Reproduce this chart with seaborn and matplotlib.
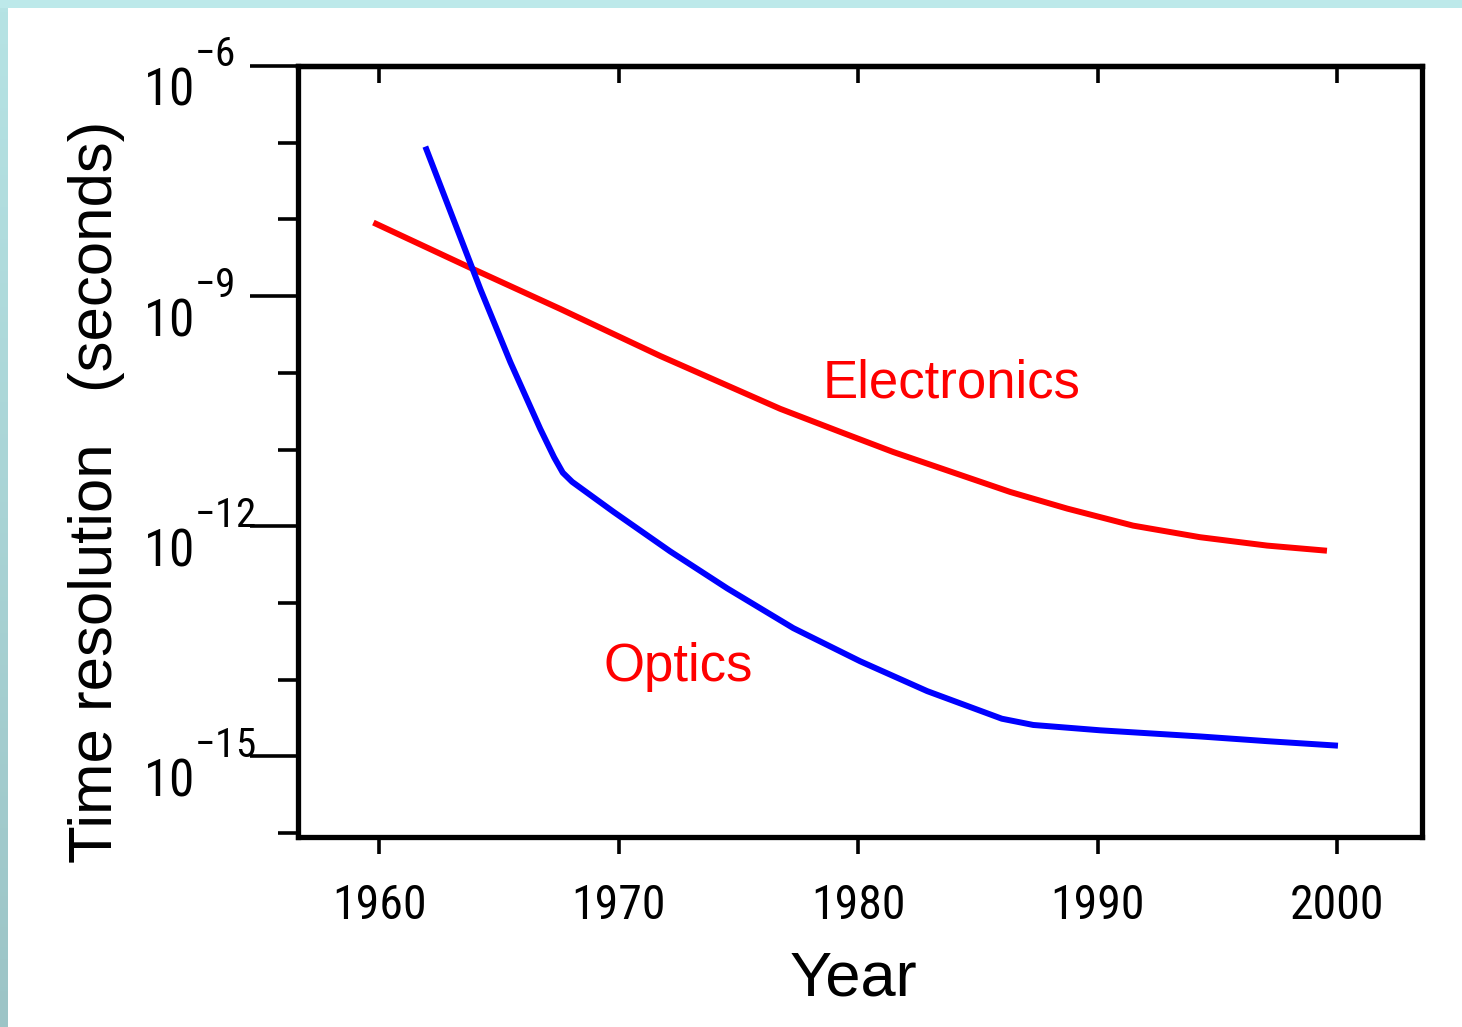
import numpy as np
import pandas as pd
import matplotlib
matplotlib.use("Agg")
import matplotlib.pyplot as plt
import matplotlib.ticker as mticker
import matplotlib.transforms as mtransforms
from matplotlib import font_manager as fm
from matplotlib.patches import Rectangle
from matplotlib.colors import LinearSegmentedColormap
import matplotlib._mathtext as _mt
import seaborn as sns

# ---------------- data ----------------
elec_years = [1959.75, 1963.8, 1967.56, 1971.73, 1976.74, 1979.25, 1981.46,
              1986.35, 1988.73, 1991.48, 1994.28, 1997.08, 1999.58]
elec_values = [9.1e-9, 2.34e-9, 6.8e-10, 1.66e-10, 3.4e-11, 1.7e-11, 9.3e-12,
               2.8e-12, 1.7e-12, 1.02e-12, 7.2e-13, 5.6e-13, 4.8e-13]

opt_years = [1961.92, 1964.22, 1965.47, 1966.72, 1967.3, 1967.66, 1968.05, 1969.77,
             1972.15, 1974.53, 1977.29, 1980.08, 1982.88, 1986.0, 1987.31,
             1990.1, 1994.28, 1997.08, 2000.04]
opt_values = [8.9e-8, 1.23e-9, 1.38e-10, 1.86e-11, 7.9e-12, 5.0e-12, 3.8e-12, 1.55e-12,
              4.7e-13, 1.55e-13, 4.7e-14, 1.74e-14, 7.1e-15, 3.1e-15, 2.57e-15,
              2.19e-15, 1.82e-15, 1.58e-15, 1.38e-15]

x_ticks = [1960, 1970, 1980, 1990, 2000]
x_tick_labels = ["1960", "1970", "1980", "1990", "2000"]
y_major_ticks = [1e-15, 1e-12, 1e-9, 1e-6]
y_major_labels = [r"$\mathregular{10^{-15}}$", r"$\mathregular{10^{-12}}$",
                  r"$\mathregular{10^{-9}}$", r"$\mathregular{10^{-6}}$"]
y_minor_ticks = [1e-16, 1e-14, 1e-13, 1e-11, 1e-10, 1e-8, 1e-7]

annotations = [("Electronics", 1978.5, 10 ** -10.32), ("Optics", 1969.35, 10 ** -14.02)]

# larger, higher superscripts (the exponents sit fully above the "10")
_mt.FontConstantsBase.sup1 = 1.4
_mt.SHRINK_FACTOR = 0.8

# ---------------- fonts ----------------
sns.set_theme(style="white")
names = {f.name for f in fm.fontManager.ttflist}
main_font = "Liberation Sans" if "Liberation Sans" in names else "DejaVu Sans"
plt.rcParams["font.family"] = [main_font, "DejaVu Sans"]


def find_narrow():
    prefs = ["Liberation Sans Narrow", "Roboto Condensed", "Noto Sans", "Open Sans"]
    for pref in prefs:
        for f in fm.fontManager.ttflist:
            if f.style != "normal" or f.weight not in (400, "normal", "regular"):
                continue
            nm = f.name
            fn = f.fname.lower()
            if pref in ("Liberation Sans Narrow", "Roboto Condensed") and nm == pref:
                return f.fname
            if nm == pref and ("condensed" in fn and "extra" not in fn and "semi" not in fn):
                return f.fname
    return None


narrow_path = find_narrow()
if narrow_path:
    xtick_fp = fm.FontProperties(fname=narrow_path, size=34.5)
    ytick_fp = fm.FontProperties(fname=narrow_path, size=37)
else:
    xtick_fp = fm.FontProperties(family=main_font, size=31.5)
    ytick_fp = fm.FontProperties(family=main_font, size=33)

# ---------------- figure ----------------
W, H = 1462, 1027
fig = plt.figure(figsize=(W / 100, H / 100), dpi=100)
fig.patch.set_facecolor("white")

fig.patches.append(Rectangle((0, 1 - 8 / H), 1, 8 / H, transform=fig.transFigure,
                             facecolor="#bde9ea", edgecolor="none", zorder=0))
bg = fig.add_axes([0, 0, 8 / W, 1 - 8 / H])
grad = np.linspace(0, 1, 256).reshape(-1, 1)
cmap = LinearSegmentedColormap.from_list("edge", ["#9cc4c6", "#b6e3e4"])
bg.imshow(grad, aspect="auto", cmap=cmap, origin="lower", extent=[0, 1, 0, 1])
bg.set_axis_off()

L, R, T, B = 297.5, 1422, 66, 837
ax = fig.add_axes([L / W, 1 - B / H, (R - L) / W, (B - T) / H])
ax.set_facecolor("white")

df_e = pd.DataFrame({"Year": elec_years, "t": elec_values})
df_o = pd.DataFrame({"Year": opt_years, "t": opt_values})
sns.lineplot(data=df_e, x="Year", y="t", ax=ax, color="#ff0000", linewidth=4.3,
             sort=False, estimator=None)
sns.lineplot(data=df_o, x="Year", y="t", ax=ax, color="#0000ff", linewidth=4.3,
             sort=False, estimator=None)
for ln in ax.get_lines():
    ln.set_linewidth(4.3)
    ln.set_solid_capstyle("butt")
    ln.set_solid_joinstyle("round")

ax.set_yscale("log")
ax.set_xlim(1956.58, 2003.55)
ax.set_ylim(8.9e-17, 1e-6)

for s in ax.spines.values():
    s.set_visible(True)
    s.set_linewidth(3.8)
    s.set_color("black")

ax.yaxis.set_major_locator(mticker.FixedLocator(y_major_ticks))
ax.yaxis.set_major_formatter(mticker.FixedFormatter(y_major_labels))
ax.yaxis.set_minor_locator(mticker.FixedLocator(y_minor_ticks))
ax.yaxis.set_minor_formatter(mticker.NullFormatter())
ax.set_xticks(x_ticks)
ax.set_xticklabels(x_tick_labels)

ax.tick_params(axis="y", which="major", direction="out", length=34.5, width=2.6,
               color="black", left=True, right=False, pad=77)
ax.tick_params(axis="y", which="minor", direction="out", length=14.5, width=2.6,
               color="black", left=True, right=False)
ax.tick_params(axis="x", which="major", direction="out", length=12, width=2.6,
               color="black", bottom=True, top=False, pad=21)
ax.tick_params(axis="x", which="minor", bottom=False, top=False)

down = mtransforms.ScaledTranslation(0, -9 / 100, fig.dpi_scale_trans)
for lab in ax.get_yticklabels():
    lab.set_fontproperties(ytick_fp)
    lab.set_horizontalalignment("left")
    lab.set_color("black")
    lab.set_transform(lab.get_transform() + down)
for lab in ax.get_xticklabels():
    lab.set_fontproperties(xtick_fp)
    lab.set_color("black")

sec = ax.secondary_xaxis("top")
sec.set_xticks(x_ticks)
sec.tick_params(axis="x", direction="in", length=12, width=2.6, color="black",
                labeltop=False)
sec.spines["top"].set_linewidth(3.8)

ax.set_xlabel("Year", fontsize=45.5, color="black", va="baseline")
ax.xaxis.set_label_coords(0.494, -0.205)
ax.set_ylabel("Time resolution   (seconds)", fontsize=44.5, color="black", va="baseline")
ax.yaxis.set_label_coords(-0.1649, 0.4475)

for txt, xx, yy in annotations:
    ax.text(xx, yy, txt, color="#ff0000", fontsize=38, ha="left", va="baseline")

fig.savefig("out.png", dpi=100, facecolor=fig.get_facecolor())
